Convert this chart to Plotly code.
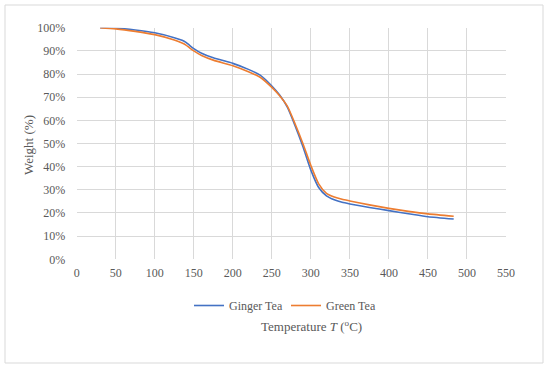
import plotly.graph_objects as go

temperature = [30, 50, 75, 100, 125, 135, 140, 145, 150, 160, 175, 200, 220, 235, 250, 260,
               270, 280, 290, 300, 310, 320, 330, 340, 350, 375, 400, 425, 450, 483]
ginger_tea = [100, 99.8, 99.0, 97.8, 95.7, 94.6, 93.7, 92.3, 91.0, 89.0, 87.0, 84.6, 82.0, 79.5,
              74.8, 70.9, 65.6, 57.5, 48.5, 38.5, 31.0, 27.4, 25.7, 24.6, 23.9, 22.4, 21.0,
              19.7, 18.4, 17.4]
green_tea = [100, 99.5, 98.4, 97.0, 94.7, 93.4, 92.5, 91.2, 90.0, 88.0, 86.0, 83.6, 81.0, 78.6,
             74.2, 70.6, 66.0, 58.3, 49.8, 40.5, 32.6, 28.5, 26.9, 25.9, 25.2, 23.5, 22.0,
             20.7, 19.6, 18.6]
x_ticks = list(range(0, 551, 50))
y_ticks = list(range(0, 101, 10))
y_tick_labels = [f"{v}%" for v in y_ticks]
x_tick_labels = [str(v) for v in x_ticks]

W, H = 550, 369
L, R, T, B = 76.7, 506, 27.7, 259.3
FONT = "Liberation Serif, Times New Roman, serif"
GRAY = "#595959"
GRID = "#d9d9d9"

fig = go.Figure()
fig.add_trace(go.Scatter(x=temperature, y=ginger_tea, name="Ginger Tea", mode="lines",
                         line=dict(color="#4472C4", width=1.6, shape="spline", smoothing=0.6)))
fig.add_trace(go.Scatter(x=temperature, y=green_tea, name="Green Tea", mode="lines",
                         line=dict(color="#ED7D31", width=1.6, shape="spline", smoothing=0.6)))

fig.update_layout(
    width=W, height=H,
    margin=dict(l=0, r=0, t=0, b=0, autoexpand=False),
    paper_bgcolor="white", plot_bgcolor="white",
    font=dict(family=FONT, size=12, color=GRAY),
    showlegend=True,
    legend=dict(orientation="h", x=189 / W, y=1 - 291 / H, xanchor="left", yanchor="top",
                font=dict(family=FONT, size=12, color=GRAY), itemwidth=30,
                entrywidth=52, entrywidthmode="pixels",
                bgcolor="rgba(0,0,0,0)"),
    xaxis=dict(domain=[L / W, R / W], range=[0, 550], tickmode="array",
               tickvals=x_ticks, ticktext=x_tick_labels, automargin=False,
               showgrid=True, gridcolor=GRID, gridwidth=1, zeroline=False, showline=False,
               ticks="outside", ticklen=2, tickcolor="rgba(0,0,0,0)",
               tickfont=dict(family=FONT, size=12, color=GRAY)),
    yaxis=dict(domain=[1 - B / H, 1 - T / H], range=[0, 100], tickmode="array",
               tickvals=y_ticks, ticktext=y_tick_labels, automargin=False,
               showgrid=True, gridcolor=GRID, gridwidth=1, zeroline=False,
               showline=False, ticks="outside", ticklen=8, tickcolor="rgba(0,0,0,0)",
               tickfont=dict(family=FONT, size=12, color=GRAY)),
    shapes=[dict(type="rect", xref="paper", yref="paper",
                 x0=5 / W, x1=543 / W, y0=1 - 363 / H, y1=1 - 5 / H,
                 line=dict(color=GRID, width=1), fillcolor="rgba(0,0,0,0)", layer="below")],
    annotations=[
        dict(text="Temperature <i>T</i> (<sup>o</sup>C)", xref="paper", yref="paper",
             x=311 / W, y=1 - 326 / H, xanchor="center", yanchor="middle", showarrow=False,
             font=dict(family=FONT, size=13, color=GRAY)),
        dict(text="Weight (%)", xref="paper", yref="paper", textangle=-90,
             x=28 / W, y=1 - 145 / H, xanchor="center", yanchor="middle", showarrow=False,
             font=dict(family=FONT, size=13, color=GRAY)),
    ],
)

fig.write_html("out.html", config={"displayModeBar": False},
               post_script="document.body.style.margin='0';document.body.style.padding='0';")
